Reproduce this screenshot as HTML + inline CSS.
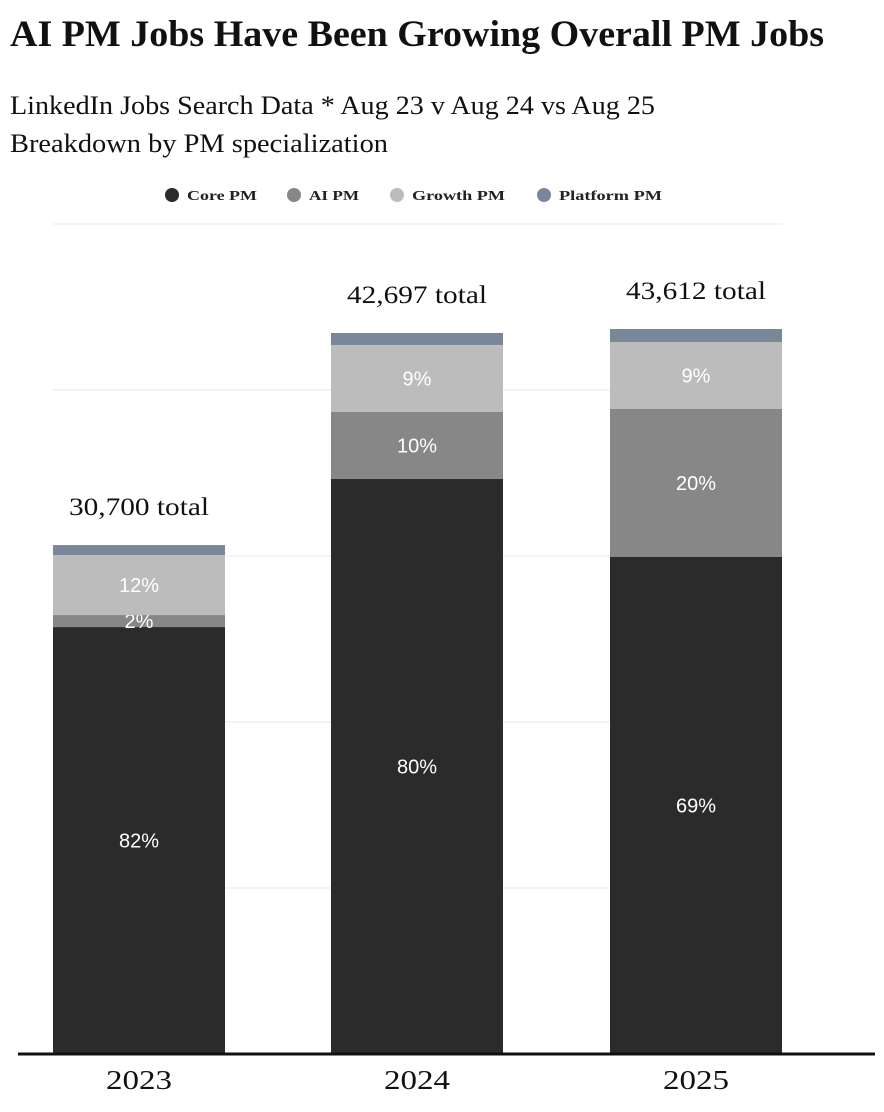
<!DOCTYPE html>
<html><head><meta charset="utf-8">
<style>
body{margin:0;background:#fff;width:884px;height:1112px;overflow:hidden;font-family:"Liberation Serif",serif;}
svg{display:block}
</style></head>
<body>
<svg id="chart" width="884" height="1112">
<text x="10" y="46" font-family="Liberation Serif" font-weight="bold" font-size="37" fill="#111" textLength="814" lengthAdjust="spacingAndGlyphs">AI PM Jobs Have Been Growing Overall PM Jobs</text>
<text x="10" y="114" font-family="Liberation Serif" font-size="26" fill="#111" textLength="645" lengthAdjust="spacingAndGlyphs">LinkedIn Jobs Search Data * Aug 23 v Aug 24 vs Aug 25</text>
<text x="10" y="152" font-family="Liberation Serif" font-size="26" fill="#111" textLength="378" lengthAdjust="spacingAndGlyphs">Breakdown by PM specialization</text>
<g id="legend"></g>
<g id="grid"></g>
<g id="bars"></g>
<line x1="18" x2="875" y1="1054" y2="1054" stroke="#111" stroke-width="3"/>
</svg>
<script>
const years = ["2023","2024","2025"];
const seriesNames = ["Core PM","AI PM","Growth PM","Platform PM"];
const corePM = [25720, 34640, 29940];
const aiPM = [723, 4036, 8916];
const growthPM = [3614, 4036, 4036];
const platformPM = [602, 723, 783];
const totalLabels = ["30,700 total","42,697 total","43,612 total"];
const coreLabels = ["82%","80%","69%"];
const aiLabels = ["2%","10%","20%"];
const growthLabels = ["12%","9%","9%"];
const gridTicks = [0,10000,20000,30000,40000,50000];

const colors = ["#2b2b2b","#878787","#bcbcbc","#7a879b"];
const NS="http://www.w3.org/2000/svg";
const y0=1054, yMax=50000, pxH=830;
function yScale(v){return y0 - v/yMax*pxH;}
const barX=[53,331,610], barW=172;
function xScale(i){return barX[i];}
function mk(tag,attrs,parent){const e=document.createElementNS(NS,tag);for(const k in attrs)e.setAttribute(k,attrs[k]);parent.appendChild(e);return e;}

const grid=document.getElementById('grid');
gridTicks.slice(1).forEach(t=>{
  const l=mk('line',{x1:53,x2:782,y1:yScale(t),y2:yScale(t),stroke:'#e8e8e8','stroke-width':1},grid);
  
  
});

const leg=document.getElementById('legend');
const legX=[172,294,397,544];
const legW=[70,50,93,103];
seriesNames.forEach((n,i)=>{
  const c=mk('circle',{cx:legX[i],cy:195,r:7,fill:colors[i]},leg);
  
  
  const t=mk('text',{x:legX[i]+15,y:200,'font-size':14,'font-weight':'bold','font-family':'Liberation Serif',fill:'#222',textLength:legW[i],lengthAdjust:'spacingAndGlyphs'},leg);
  t.textContent=n;
  
  
});

const bars=document.getElementById('bars');
const series=[corePM,aiPM,growthPM,platformPM];
const segLabels=[coreLabels,aiLabels,growthLabels,null];
years.forEach((yr,i)=>{
  let cum=0;
  series.forEach((s,k)=>{
    const top=yScale(cum+s[i]), bot=yScale(cum);
    const r=mk('rect',{x:xScale(i),y:top,width:barW,height:bot-top,fill:colors[k]},bars);
    
    
    if(segLabels[k]){
      const t=mk('text',{x:xScale(i)+barW/2,y:(top+bot)/2+7,'text-anchor':'middle','font-size':20,'font-family':'Liberation Sans',fill:'#fff'},bars);
      t.textContent=segLabels[k][i];
      
      
    }
    cum+=s[i];
  });
  const tt=mk('text',{x:xScale(i)+barW/2,y:yScale(cum)-30,'text-anchor':'middle','font-size':25,'font-family':'Liberation Serif',fill:'#111',textLength:140,lengthAdjust:'spacingAndGlyphs'},bars);
  tt.textContent=totalLabels[i];
  
  
  const yl=mk('text',{x:xScale(i)+barW/2,y:1089,'text-anchor':'middle','font-size':27,'font-family':'Liberation Serif',fill:'#111',textLength:66,lengthAdjust:'spacingAndGlyphs'},bars);
  yl.textContent=yr;
  
  
});
</script>
</body></html>
